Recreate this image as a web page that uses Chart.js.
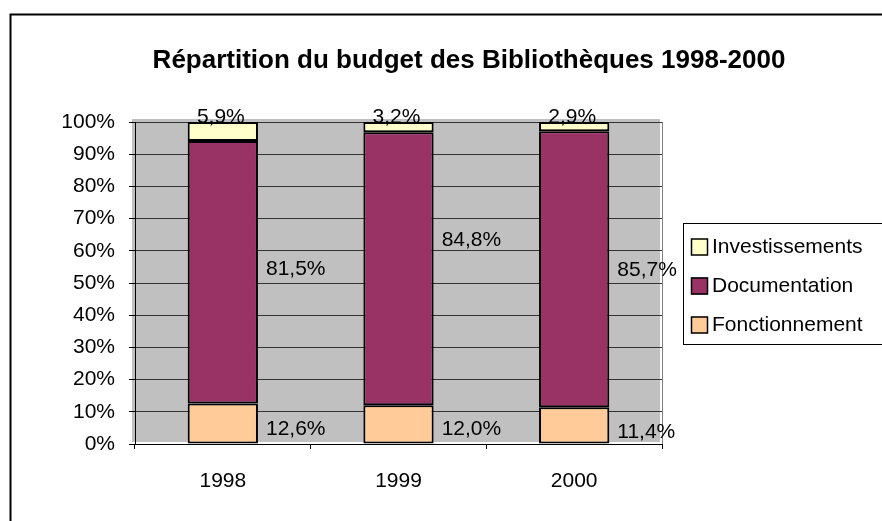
<!DOCTYPE html>
<html>
<head>
<meta charset="utf-8">
<script src="https://cdn.jsdelivr.net/npm/chart.js@4"></script>
<style>
  html, body { margin: 0; padding: 0; background: #fff; }
  canvas { display: block; }
</style>
</head>
<body>
<canvas id="chart" width="882" height="521"></canvas>
<script>
// Budget split of the libraries, 1998-2000 (shares in %)
const years = ['1998', '1999', '2000'];
const fonctionnement = [12.6, 12.0, 11.4];
const documentation = [81.5, 84.8, 85.7];
const investissements = [5.9, 3.2, 2.9];
const yTicks = [0, 10, 20, 30, 40, 50, 60, 70, 80, 90, 100];
const chartTitle = 'Répartition du budget des Bibliothèques 1998-2000';

const FONT = "'Liberation Sans', Arial, sans-serif";

// small vertical nudges for the value labels, same as in the original
const labelNudge = [[6, 5, 7], [-3, -29, 1], [0, 0, 0]];

function pct(v) {
    return v.toFixed(1).replace('.', ',') + '%';
}

// gray plot background, outer frame and title
const background = {
    id: 'background',
    beforeDraw(chart) {
        const c = chart.ctx, a = chart.chartArea;
        c.save();
        c.fillStyle = '#C0C0C0';
        c.fillRect(a.left - 3, a.top - 3, a.right - a.left + 1, a.bottom - a.top + 1);
        c.strokeStyle = '#808080';
        c.lineWidth = 1;
        c.beginPath();
        c.moveTo(a.right + 0.5, a.top);
        c.lineTo(a.right + 0.5, a.bottom);
        c.stroke();
        c.strokeStyle = '#000';
        c.lineWidth = 2;
        c.strokeRect(10.5, 14.5, 1000, 1000);
        // title, centred on the whole (wider) original chart
        c.font = 'bold 26px ' + FONT;
        c.fillStyle = '#000';
        c.textAlign = 'center';
        c.textBaseline = 'middle';
        c.fillText(chartTitle, 469, 61);
        c.restore();
    }
};

// value labels next to / above the bars
const valueLabels = {
    id: 'valueLabels',
    afterDatasetsDraw(chart) {
        const c = chart.ctx;
        c.save();
        c.font = '21px ' + FONT;
        c.fillStyle = '#000';
        chart.data.datasets.forEach((ds, i) => {
            const meta = chart.getDatasetMeta(i);
            meta.data.forEach((bar, j) => {
                const txt = pct(ds.data[j]);
                if (i === chart.data.datasets.length - 1) {
                    c.textAlign = 'center';
                    c.textBaseline = 'alphabetic';
                    c.fillText(txt, bar.x - 2, bar.y + 1);
                } else {
                    c.textAlign = 'left';
                    c.textBaseline = 'middle';
                    c.fillText(txt, bar.x + bar.width / 2 + 8, (bar.y + bar.base) / 2 + labelNudge[i][j]);
                }
            });
        });
        c.restore();
    }
};

// boxed legend on the right, top series first
const boxLegend = {
    id: 'boxLegend',
    afterDraw(chart) {
        const c = chart.ctx;
        const x0 = chart.chartArea.right + 21, y0 = 223;
        c.save();
        c.strokeStyle = '#000';
        c.lineWidth = 1;
        c.strokeRect(x0 + 0.5, y0 + 0.5, 400, 121);
        c.font = '21px ' + FONT;
        c.textAlign = 'left';
        c.textBaseline = 'middle';
        const sets = chart.data.datasets.slice().reverse();
        sets.forEach((ds, k) => {
            const cy = y0 + 23.5 + k * 39;
            c.fillStyle = ds.backgroundColor;
            c.fillRect(x0 + 8, cy - 8, 17, 17);
            c.lineWidth = 1.5;
            c.strokeRect(x0 + 8.5, cy - 7.5, 16, 16);
            c.fillStyle = '#000';
            c.fillText(ds.label, x0 + 29, cy + 1);
        });
        c.restore();
    }
};

const ctx = document.getElementById('chart');
new Chart(ctx, {
    type: 'bar',
    data: {
        labels: years,
        datasets: [
            { label: 'Fonctionnement', data: fonctionnement, backgroundColor: '#FFCC99' },
            { label: 'Documentation', data: documentation, backgroundColor: '#993366' },
            { label: 'Investissements', data: investissements, backgroundColor: '#FFFFCC' }
        ]
    },
    options: {
        responsive: false,
        animation: false,
        devicePixelRatio: 1,
        layout: { padding: { left: 60, right: 220, top: 122, bottom: 0 } },
        datasets: {
            bar: {
                borderColor: '#000',
                borderWidth: 2,
                borderSkipped: false,
                categoryPercentage: 1,
                barPercentage: 0.4
            }
        },
        plugins: {
            legend: { display: false },
            tooltip: { enabled: false },
            title: { display: false }
        },
        scales: {
            x: {
                stacked: true,
                afterFit(scale) { scale.height = 77; },
                grid: {
                    offset: true,
                    drawOnChartArea: false,
                    drawTicks: true,
                    tickLength: 5,
                    color: '#000'
                },
                border: { color: '#000', width: 1 },
                ticks: { color: '#000', padding: 20, font: { family: FONT, size: 21 } }
            },
            y: {
                stacked: true,
                min: 0,
                max: 100,
                afterFit(scale) { scale.width = 75; },
                afterBuildTicks(scale) { scale.ticks = yTicks.map(v => ({ value: v })); },
                grid: { color: '#333', tickLength: 6, tickColor: '#000' },
                border: { color: '#000', width: 1 },
                ticks: {
                    color: '#000',
                    padding: 14,
                    font: { family: FONT, size: 21 },
                    callback: v => v + '%'
                }
            }
        }
    },
    plugins: [background, valueLabels, boxLegend]
});
</script>
</body>
</html>
